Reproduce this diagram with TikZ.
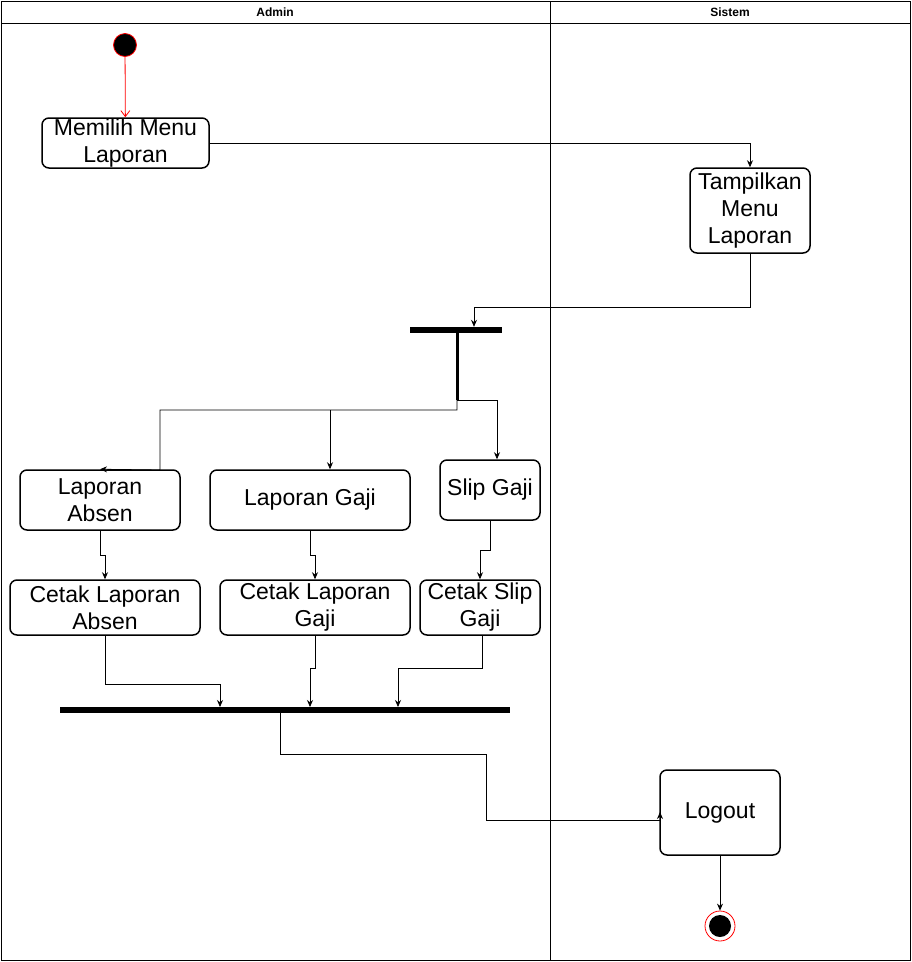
\documentclass[tikz,border=0pt]{standalone}
\usepackage{fontspec}
\setmainfont{Liberation Sans}
\usetikzlibrary{arrows.meta}
\begin{document}
\begin{tikzpicture}[x=1pt,y=-1pt,
  action/.style={draw, rounded corners=7pt, line width=1.5pt, align=center, inner sep=0pt,
     font=\fontsize{23}{27}\selectfont},
  bar/.style={fill=black, draw=none, inner sep=0pt},
  arr/.style={line width=0.8pt, -{Stealth[length=7pt,width=6pt]}},
  lanehead/.style={font=\bfseries\fontsize{12}{14}\selectfont}
]
\useasboundingbox (0,0) rectangle (912,962);
% pool
\draw[line width=0.8pt] (1,1) rectangle (910,960);
\draw[line width=0.8pt] (1,23) -- (910,23);
\draw[line width=0.8pt] (550,1) -- (550,960);
\node[lanehead] (admin) at (275,12) {Admin};
\node[lanehead] (sistem) at (730,12) {Sistem};

% start
\node[circle, fill=black, draw=red, line width=0.8pt, minimum size=23pt, inner sep=0pt] (start) at (125,45) {};

% actions
\node[action, minimum width=167pt, minimum height=50pt] (memilih) at (125.5,143) {Memilih Menu\\Laporan};
\node[action, minimum width=120pt, minimum height=85pt] (tampil) at (750,210.5) {Tampilkan\\Menu\\Laporan};
\node[action, minimum width=160pt, minimum height=60pt] (labsen) at (100,500) {Laporan\\Absen};
\node[action, minimum width=200pt, minimum height=60pt] (lgaji) at (310,500) {Laporan Gaji};
\node[action, minimum width=100pt, minimum height=60pt] (slip) at (490,490) {Slip Gaji};
\node[action, minimum width=190pt, minimum height=55pt] (cabsen) at (105,607.5) {Cetak Laporan\\Absen};
\node[action, minimum width=190pt, minimum height=55pt] (cgaji) at (315,607.5) {Cetak Laporan\\Gaji};
\node[action, minimum width=120pt, minimum height=55pt] (cslip) at (480,607.5) {Cetak Slip\\Gaji};
\node[action, minimum width=120pt, minimum height=85pt] (logout) at (720,812.5) {Logout};

% bars
\node[bar, minimum width=92pt, minimum height=6pt] (fork) at (456,330) {};
\node[bar, minimum width=450pt, minimum height=6pt] (join) at (285,710) {};

% end
\node[circle, draw=red, fill=white, line width=0.8pt, minimum size=30pt, inner sep=0pt] (end) at (720,926) {};
\node[circle, fill=black, minimum size=22pt, inner sep=0pt] (endin) at (end.center) {};

% waypoints
\coordinate (w1) at (474,307);
\coordinate (fk) at (457,333);
\coordinate (f1) at (457,400);
\coordinate (f2) at (457,410);
\coordinate (f3) at (160,410);
\coordinate (f4) at (160,470);
\coordinate (g1) at (330,410);
\coordinate (a1) at (220,684);
\coordinate (a2) at (220,707);
\coordinate (b2) at (310,707);
\coordinate (c2) at (398,707);
\coordinate (j0) at (280,713);
\coordinate (l1) at (486,754);
\coordinate (l2) at (660,820);
\coordinate (l3) at (660,812);

% connectors
\draw[red, line width=0.8pt, -{Straight Barb[length=6pt,width=9pt]}] (start) -- (memilih);
\draw[arr] (memilih.east) -| (tampil.north);
\draw[arr] (tampil.south) |- (w1) -- ([xshift=18pt]fork.north);
\draw[line width=3pt] (fk) -- (f1);
\draw[arr] (f1) -| ([xshift=7pt]slip.north);
\draw[arr] (f1) -- (f2) -- (f3) -- (f4) -- (labsen.north);
\draw[arr] (g1) -- ([xshift=20pt]lgaji.north);

\draw[arr] (labsen.south) -- ++(0,25) -| (cabsen.north);
\draw[arr] (lgaji.south) -- ++(0,25) -| (cgaji.north);
\draw[arr] (slip.south) -- ++(0,30) -| (cslip.north);

\draw[arr] (cabsen.south) |- (a1) -- (a2);
\draw[arr] (cgaji.south) -- ++(0,33) -| (b2);
\draw[arr] ([xshift=2pt]cslip.south) -- ++(0,33) -| (c2);

\draw[arr] (j0) |- (l1) |- (l2) -- (l3);
\draw[arr] (logout.south) -- (end.north);
\end{tikzpicture}
\end{document}
